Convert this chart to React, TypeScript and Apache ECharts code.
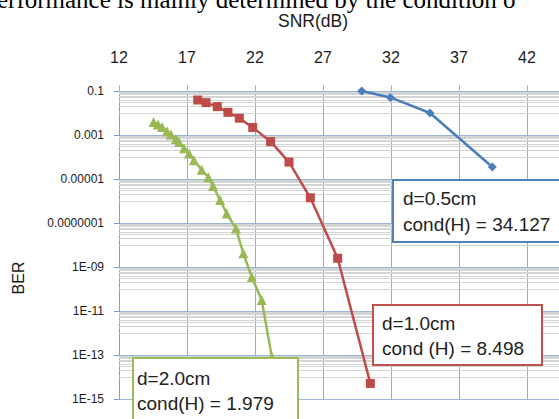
import React, { useEffect, useRef } from "react";
import * as echarts from "echarts";

// SNR (dB) and BER readings for each spacing
const snrBlue = [29.85, 31.95, 34.87, 39.45];
const berBlue = [0.1, 5.1e-2, 1.0e-2, 3.5e-5];

const snrRed = [17.79, 18.4, 19.23, 20.01, 20.85, 21.83, 23.15, 24.5, 26.07, 28.08, 30.48];
const berRed = [3.9e-2, 2.95e-2, 1.95e-2, 1.07e-2, 5.8e-3, 2.2e-3, 5.0e-4, 5.9e-5, 1.4e-6, 2.5e-9, 5.1e-15];

const snrGreen = [14.54, 14.87, 15.16, 15.53, 15.82, 16.19, 16.41, 16.78, 17.15, 17.51, 18.08, 18.57, 18.91, 19.43, 19.92, 20.6, 21.14, 21.76, 22.49, 23.23];
const berGreen = [3.9e-3, 3.0e-3, 2.3e-3, 1.5e-3, 1.05e-3, 6.6e-4, 4.8e-4, 2.5e-4, 1.45e-4, 7.2e-5, 2.6e-5, 1.2e-5, 4.8e-6, 1.1e-6, 2.7e-7, 5.6e-8, 4.2e-9, 3.5e-10, 3.2e-11, 8.5e-14];

// axis ticks
const xTicks = [12, 17, 22, 27, 32, 37, 42];
const yTickExponents = [-1, -3, -5, -7, -9, -11, -13, -15];
const yTickLabels = ["0.1", "0.001", "0.00001", "0.0000001", "1E-09", "1E-11", "1E-13", "1E-15"];
const minorMultipliers = [1, 2, 3, 4, 5, 6, 7, 8, 9];

const seriesNames = ["d=0.5cm", "d=1.0cm", "d=2.0cm"];
const boxLine1 = ["d=0.5cm", "d=1.0cm", "d=2.0cm"];
const boxLine2 = ["cond(H) = 34.127", "cond (H) = 8.498", "cond(H) = 1.979"];

const toPts = (xs: number[], ys: number[]) => xs.map((x, i) => [x, Math.log10(ys[i])]);

export default function App() {
  const ref = useRef<HTMLDivElement>(null);
  useEffect(() => {
    if (!ref.current) return;
    const chart = echarts.init(ref.current, undefined, { renderer: "svg" });

    const minorLines: any[] = [];
    yTickExponents.forEach((e) => {
      if (e <= -15) return;
      minorMultipliers.forEach((k) => {
        minorLines.push({ yAxis: Math.log10(k * Math.pow(10, e - 1)) });
      });
    });

    const font = '"Liberation Sans", Arial, sans-serif';
    const box = (x: number, y: number, w: number, h: number, color: string, tx: number, ty1: number, ty2: number, i: number) => ({
      type: "group",
      z: 100,
      children: [
        { type: "rect", z: 100, shape: { x, y, width: w, height: h }, style: { fill: "#fff", stroke: color, lineWidth: 2 } },
        { type: "text", z: 101, x: tx, y: ty1, style: { text: boxLine1[i], font: `19px ${font}`, fill: "#222", textAlign: "left", textVerticalAlign: "middle", align: "left", verticalAlign: "middle" } },
        { type: "text", z: 101, x: tx, y: ty2, style: { text: boxLine2[i], font: `19px ${font}`, fill: "#222", textAlign: "left", textVerticalAlign: "middle", align: "left", verticalAlign: "middle" } },
      ],
    });

    const option: any = {
      animation: false,
      backgroundColor: "#fff",
      grid: { left: 119, top: 91, width: 476, height: 308, outerBoundsMode: "none", containLabel: false },
      xAxis: {
        type: "value",
        position: "top",
        min: 12,
        max: 47,
        interval: 5,
        axisLine: { show: true, lineStyle: { color: "#9bb5d9", width: 1 } },
        axisTick: { show: true, inside: false, length: 6, lineStyle: { color: "#9bb5d9" } },
        axisLabel: {
          margin: 26,
          fontSize: 16,
          fontFamily: font,
          color: "#1a1a1a",
          formatter: (v: number) => (xTicks.includes(v) ? String(v) : ""),
        },
        splitLine: { show: true, lineStyle: { color: "#a8a8a8", width: 1 } },
      },
      yAxis: {
        type: "value",
        min: -15,
        max: -1,
        interval: 2,
        axisLine: { show: true, onZero: false, lineStyle: { color: "#7a9fd2", width: 1 } },
        axisTick: { show: true, inside: false, length: 5, lineStyle: { color: "#7a9fd2" } },
        axisLabel: {
          margin: 15,
          fontSize: 12,
          fontFamily: font,
          color: "#1a1a1a",
          formatter: (v: number) => {
            const idx = yTickExponents.indexOf(Math.round(v));
            return idx >= 0 ? yTickLabels[idx] : "";
          },
        },
        splitLine: { show: true, lineStyle: { color: "#9bb5d9", width: 1 } },
      },
      series: [
        {
          type: "line",
          name: "minor",
          data: [],
          z: 1,
          silent: true,
          markLine: {
            silent: true,
            symbol: "none",
            label: { show: false },
            lineStyle: { color: "#d4d4d4", width: 1, type: "solid" },
            data: minorLines,
            z: 1,
          },
        },
        {
          type: "line",
          name: seriesNames[0],
          data: toPts(snrBlue, berBlue),
          symbol: "diamond",
          symbolSize: 9,
          lineStyle: { color: "#4a7ebb", width: 2.5 },
          itemStyle: { color: "#4a7ebb" },
          z: 3,
        },
        {
          type: "line",
          name: seriesNames[1],
          data: toPts(snrRed, berRed),
          symbol: "rect",
          symbolSize: 9,
          lineStyle: { color: "#be4b48", width: 2.5 },
          itemStyle: { color: "#be4b48" },
          z: 3,
        },
        {
          type: "line",
          name: seriesNames[2],
          data: toPts(snrGreen, berGreen),
          symbol: "triangle",
          symbolSize: 10,
          lineStyle: { color: "#98b954", width: 2.5 },
          itemStyle: { color: "#98b954" },
          z: 3,
        },
      ],
      graphic: [
        {
          type: "text",
          x: -3,
          y: -1,
          style: { text: "erformance is mainly determined by the condition o", font: '25px "Liberation Serif", serif', fill: "#000", textAlign: "left", textVerticalAlign: "middle", align: "left", verticalAlign: "middle" },
        },
        {
          type: "text",
          x: 313,
          y: 21,
          style: { text: "SNR(dB)", font: `17.5px ${font}`, fill: "#1a1a1a", textAlign: "center", textVerticalAlign: "middle", align: "center", verticalAlign: "middle" },
        },
        {
          type: "text",
          x: 18,
          y: 278,
          rotation: Math.PI / 2,
          style: { text: "BER", font: `16px ${font}`, fill: "#1a1a1a", textAlign: "center", textVerticalAlign: "middle", align: "center", verticalAlign: "middle" },
        },
        box(393, 180, 180, 62, "#4f81bd", 403, 198, 224, 0),
        box(373, 305, 169, 60, "#c0504d", 382, 323, 348, 1),
        box(133, 358, 165, 80, "#9bbb59", 137, 378, 403, 2),
      ],
    };
    chart.setOption(option);
    return () => chart.dispose();
  }, []);
  return <div ref={ref} style={{ position: "absolute", left: 0, top: 0, width: 559, height: 419 }} />;
}
